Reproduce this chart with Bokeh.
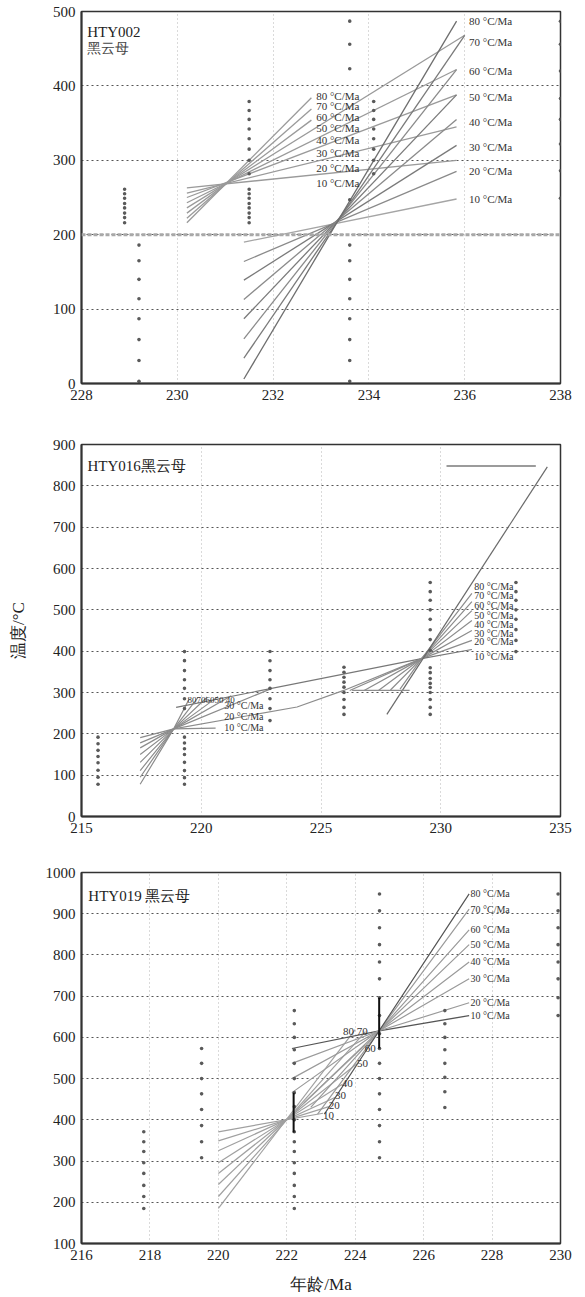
from bokeh.plotting import figure
from bokeh.layouts import column
from bokeh.models import Range1d, FixedTicker, Span
from bokeh.core.properties import value
from bokeh.embed import file_html
from bokeh.resources import INLINE

SERIF = "Liberation Serif"
RATES = [10, 20, 30, 40, 50, 60, 70, 80]
RATE_LABELS = [f"{r} °C/Ma" for r in RATES]

# ---------------- Panel 1 : HTY002 ----------------
p1_title = ["HTY002", "黑云母"]
p1_x_ticks = [228, 230, 232, 234, 236, 238]
p1_y_ticks = [0, 100, 200, 300, 400, 500]
p1_ref_temp = 200
p1_dot_cols_x = [228.9, 229.2, 231.5, 233.6, 234.1, 238.0]
p1_dot_cols_y = [
    [261, 255, 249, 242, 236, 229, 223, 216],
    [186, 165, 140, 114, 87, 59, 31, 3],
    [379, 367, 355, 342, 329, 315, 300, 282, 261, 255, 249, 242, 236, 229, 223, 216],
    [487, 456, 423, 247, 186, 165, 140, 114, 87, 59, 31, 3],
    [379, 367, 355, 342, 329, 315, 300, 282],
    [487, 456, 420, 383, 355, 322, 286, 249],
]
p1_fan1_x0 = 230.2
p1_fan1_y0 = [263, 256, 250, 243, 236, 229, 222, 216]
p1_fan1_x1 = [235.83, 235.83, 235.83, 235.83, 236.0, 232.8, 232.8, 232.8]
p1_fan1_y1 = [300, 345, 388, 422, 468, 354, 369, 384]
p1_fan1_label_x = 232.9
p1_fan1_label_y = [270, 289, 310, 327, 344, 358, 373, 387]
p1_fan2_x0 = 231.39
p1_fan2_y0 = [190, 164, 139, 113, 87, 60, 34, 6]
p1_fan2_x1 = [235.83, 235.83, 235.83, 235.83, 235.83, 235.83, 236.0, 235.83]
p1_fan2_y1 = [248, 285, 320, 355, 388, 422, 468, 487]
p1_fan2_label_x = 236.09
p1_fan2_label_y = [248, 285, 318, 351, 385, 420, 459, 487]

# ---------------- Panel 2 : HTY016 ----------------
p2_title = "HTY016黑云母"
p2_x_ticks = [215, 220, 225, 230, 235]
p2_y_ticks = [0, 100, 200, 300, 400, 500, 600, 700, 800, 900]
p2_dot_cols_x = [215.69, 219.3, 222.87, 225.96, 229.56, 233.14]
p2_dot_cols_y = [
    [192, 176, 160, 145, 130, 112, 95, 78],
    [399, 377, 353, 331, 310, 285, 261, 192, 178, 164, 150, 131, 111, 94, 78],
    [399, 377, 353, 331, 310, 285, 261, 232],
    [361, 349, 337, 325, 313, 300, 283, 264, 247],
    [566, 544, 523, 500, 477, 452, 428, 402, 360, 348, 334, 322, 312, 300, 283, 264, 247],
    [566, 544, 523, 500, 477, 452, 426, 399],
]
# left fan (pivot near 218.85 / 212)
p2_fanL_x = [
    [217.45, 218.85, 220.6],
    [217.45, 218.85, 224.0, 225.95, 229.2, 231.3],
    [217.45, 218.85, 222.95],
    [217.45, 218.85, 221.25],
    [217.45, 218.85, 220.7],
    [217.45, 218.85, 220.25],
    [217.45, 218.85, 219.85],
    [217.45, 218.85, 219.5],
]
p2_fanL_y = [
    [191, 212, 214],
    [178, 212, 265, 305, 382, 426],
    [166, 212, 310],
    [150, 212, 292],
    [131, 212, 290],
    [111, 212, 289],
    [95, 212, 287],
    [78, 212, 285],
]
# right fan (pivot near 229.2 / 382)
p2_fanR_x = [
    [218.95, 229.2, 231.3],
    [226.2, 229.2, 231.3],
    [226.8, 229.2, 231.3],
    [227.4, 229.2, 231.3],
    [227.9, 229.2, 231.3],
    [228.3, 229.2, 231.3],
    [227.75, 234.45],
    [226.3, 228.7],
]
p2_fanR_y = [
    [264, 382, 404],
    [305, 382, 450],
    [305, 382, 474],
    [305, 382, 498],
    [306, 382, 520],
    [308, 382, 540],
    [247, 846],
    [305, 305],
]
p2_legend_x = [230.24, 233.97]
p2_legend_y = [848, 848]
p2_left_label_x = 219.43
p2_left_label_y = 283
p2_left_label_text = "80706050 40"
p2_mid_labels = ["30 °C/Ma", "20 °C/Ma", "10 °C/Ma"]
p2_mid_label_x = 220.96
p2_mid_label_y = [269, 242, 215]
p2_right_label_x = 231.4
p2_right_label_y = [387, 423, 443, 464, 486, 511, 535, 557]

# ---------------- Panel 3 : HTY019 ----------------
p3_title = "HTY019  黑云母"
p3_x_ticks = [216, 218, 220, 222, 224, 226, 228, 230]
p3_y_ticks = [100, 200, 300, 400, 500, 600, 700, 800, 900, 1000]
p3_dot_cols_x = [217.82, 219.51, 222.22, 224.71, 226.62, 229.93]
p3_dot_cols_y = [
    [371, 347, 323, 296, 270, 241, 214, 185],
    [573, 537, 500, 463, 425, 386, 347, 308],
    [665, 633, 600, 570, 537, 500, 466, 432, 400, 371, 347, 323, 296, 270, 241, 214, 185],
    [948, 907, 866, 825, 783, 742, 696, 653, 609, 573, 537, 500, 463, 425, 386, 347, 308],
    [665, 633, 600, 570, 537, 503, 468, 430],
    [948, 907, 866, 825, 783, 742, 696, 653],
]
p3_fanL_x0 = 220.0
p3_fanL_y0 = [371, 349, 325, 296, 270, 243, 214, 185]
p3_fanL_x1 = [223.06, 223.23, 223.41, 223.61, 224.05, 224.28, 224.3, 224.0]
p3_fanL_y1 = [416, 432, 454, 486, 536, 581, 614, 619]
p3_fanR_x0 = [222.15, 222.15, 222.15, 222.15, 222.5, 222.7, 222.9, 223.1]
p3_fanR_y0 = [573, 537, 500, 466, 441, 430, 414, 414]
p3_pivot = (224.7, 616)
p3_fanR_x1 = 227.33
p3_fanR_y1 = [653, 684, 742, 783, 825, 861, 911, 948]
p3_right_label_x = 227.37
p3_right_label_y = [653, 684, 742, 784, 825, 861, 911, 948]
p3_inner_labels = ["10", "20", "30", "40", "50", "60", "80 70"]
p3_inner_label_x = [223.06, 223.23, 223.41, 223.61, 224.05, 224.28, 223.64]
p3_inner_label_y = [410, 434, 459, 488, 536, 573, 616]
p3_err_x = [222.2, 224.7]
p3_err_lo = [369, 573]
p3_err_hi = [466, 696]

X_TITLE = "年龄/Ma"
Y_TITLE = "温度/°C"


def base(xr, yr, xt, yt, w, h, bl, br, bt, bb):
    p = figure(width=w, height=h, x_range=Range1d(*xr), y_range=Range1d(*yr),
               output_backend="svg", toolbar_location=None,
               min_border_left=bl, min_border_right=br,
               min_border_top=bt, min_border_bottom=bb)
    p.xaxis.ticker = FixedTicker(ticks=xt)
    p.yaxis.ticker = FixedTicker(ticks=yt)
    for ax in p.axis:
        ax.major_label_text_font = SERIF
        ax.major_label_text_font_size = "15px"
        ax.major_label_text_color = "#222222"
        ax.major_tick_in = 0
        ax.major_tick_out = 0
        ax.minor_tick_in = 0
        ax.minor_tick_out = 0
        ax.axis_line_color = "#333333"
        ax.axis_line_width = 2
        ax.axis_label_text_font = SERIF
        ax.axis_label_text_font_size = "17px"
        ax.axis_label_text_font_style = "normal"
        ax.axis_label_text_color = "#222222"
    p.xaxis.major_label_standoff = 6
    p.yaxis.major_label_standoff = 6
    p.xgrid.grid_line_color = "#b5b5b5"
    p.xgrid.grid_line_dash = "1 3"
    p.ygrid.grid_line_color = "#555555"
    p.ygrid.grid_line_dash = "2 3"
    p.outline_line_color = "#333333"
    p.outline_line_width = 1.5
    p.background_fill_color = "white"
    p.border_fill_color = "white"
    return p


def dots(p, xs, ys, size=3.6, color="#5a5a5a"):
    for x, col in zip(xs, ys):
        p.scatter([x] * len(col), col, size=size, color=color, line_color=None)


def txt(p, x, y, t, size="11px", align="left", color="#333333"):
    p.text(x=x, y=y, text=t, text_font=value(SERIF), text_font_size=size,
           text_color=color, text_align=align, text_baseline="middle")


# ---- figure 1 (page 0..420) ----
p1 = base((228, 238), (0, 500), p1_x_ticks, p1_y_ticks, 577, 420, 81, 12, 11, 37)
p1.add_layout(Span(location=p1_ref_temp, dimension="width", line_color="#a8a8a8",
                   line_width=3, line_dash="4 2"))
p1.segment(x0=[p1_fan1_x0] * 8, y0=p1_fan1_y0, x1=p1_fan1_x1, y1=p1_fan1_y1,
           line_color="#9a9a9a", line_width=1.3)
p1.segment(x0=[p1_fan2_x0] * 8, y0=p1_fan2_y0, x1=p1_fan2_x1, y1=p1_fan2_y1,
           line_color=["#a5a5a5", "#8a8a8a", "#7a7a7a", "#8a8a8a", "#7a7a7a", "#8a8a8a", "#7a7a7a", "#6e6e6e"],
           line_width=1.3)
dots(p1, p1_dot_cols_x, p1_dot_cols_y)
txt(p1, [p1_fan1_label_x] * 8, p1_fan1_label_y, RATE_LABELS)
txt(p1, [p1_fan2_label_x] * 8, p1_fan2_label_y, RATE_LABELS)
txt(p1, [228.12], [472], [p1_title[0]], size="15px", color="#222222")
txt(p1, [228.12], [450], [p1_title[1]], size="14px", color="#444444")

# ---- figure 2 (page 420..850) ----
p2 = base((215, 235), (0, 900), p2_x_ticks, p2_y_ticks, 577, 430, 81, 12, 24, 34)
p2.multi_line(p2_fanL_x, p2_fanL_y, line_color="#8c8c8c", line_width=1.2)
p2.multi_line(p2_fanR_x, p2_fanR_y,
              line_color=["#777777", "#8c8c8c", "#8c8c8c", "#8c8c8c", "#8c8c8c", "#8c8c8c", "#6a6a6a", "#8c8c8c"],
              line_width=1.2)
p2.line(p2_legend_x, p2_legend_y, line_color="#7a7a7a", line_width=1.6)
dots(p2, p2_dot_cols_x, p2_dot_cols_y)
txt(p2, [p2_left_label_x], [p2_left_label_y], [p2_left_label_text], size="9px")
txt(p2, [p2_mid_label_x] * 3, p2_mid_label_y, p2_mid_labels, size="10px")
txt(p2, [p2_right_label_x] * 8, p2_right_label_y, RATE_LABELS, size="10px")
txt(p2, [215.25], [847], [p2_title], size="15px", color="#222222")
p2.yaxis.axis_label = Y_TITLE
p2.yaxis.axis_label_standoff = 22

# ---- figure 3 (page 850..1296) ----
p3 = base((216, 230), (100, 1000), p3_x_ticks, p3_y_ticks, 577, 446, 80, 17, 22, 53)
p3.segment(x0=[p3_fanL_x0] * 8, y0=p3_fanL_y0, x1=p3_fanL_x1, y1=p3_fanL_y1,
           line_color="#a0a0a0", line_width=1.2)
p3.multi_line([[x0, p3_pivot[0], p3_fanR_x1] for x0 in p3_fanR_x0],
              [[y0, p3_pivot[1], y1] for y0, y1 in zip(p3_fanR_y0, p3_fanR_y1)],
              line_color=["#555555", "#9a9a9a", "#9a9a9a", "#9a9a9a", "#9a9a9a", "#9a9a9a", "#9a9a9a", "#555555"],
              line_width=1.2)
dots(p3, p3_dot_cols_x, p3_dot_cols_y)
p3.segment(x0=p3_err_x, y0=p3_err_lo, x1=p3_err_x, y1=p3_err_hi,
           line_color="#111111", line_width=2)
txt(p3, [p3_right_label_x] * 8, p3_right_label_y, RATE_LABELS, size="10px")
txt(p3, p3_inner_label_x, p3_inner_label_y, p3_inner_labels, size="11px")
txt(p3, [216.2], [943], [p3_title], size="15px", color="#222222")
p3.xaxis.axis_label = X_TITLE
p3.xaxis.axis_label_standoff = 12

layout = column(p1, p2, p3)
open("out.html", "w").write(file_html(layout, INLINE))
